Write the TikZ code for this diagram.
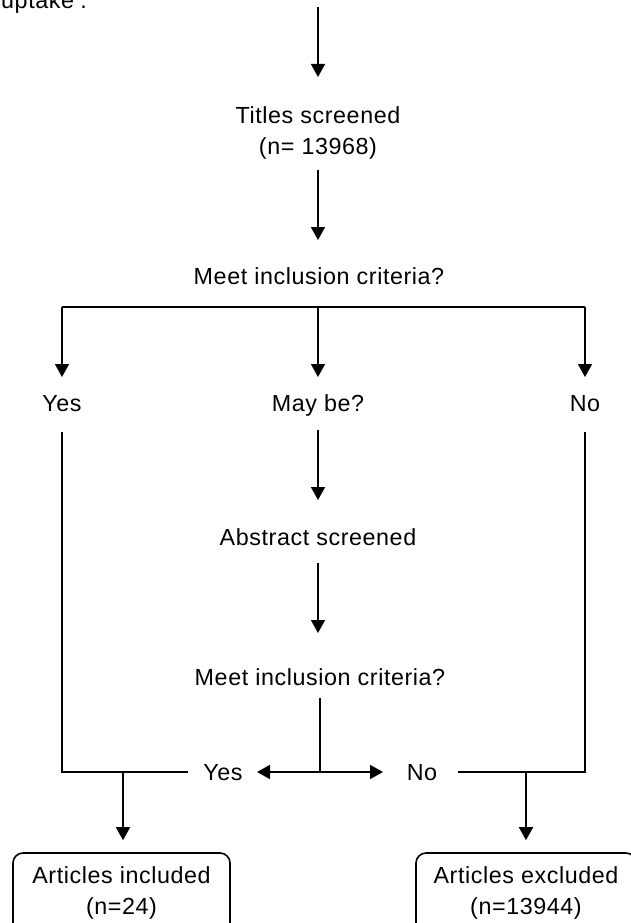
\documentclass[tikz,border=0pt]{standalone}
\usepackage{fontspec}
\setmainfont{Liberation Sans}[LetterSpace=2.5]
\usetikzlibrary{arrows.meta}
\begin{document}
\begin{tikzpicture}[x=1pt,y=-1pt,
  txt/.style={inner sep=0pt, font=\fontsize{23.3}{31}\selectfont},
  lbl/.style={txt, text height=16.7pt, text depth=0pt},
  lbl2/.style={txt, align=center},
  ln/.style={line width=1.6pt},
  arr/.style={ln, -{Triangle[width=14pt,length=13pt]}},
  outbox/.style={txt, draw, line width=1.6pt, rounded corners=10pt, minimum height=80pt, align=center}
]
\useasboundingbox (0,0) rectangle (630,923);

% texts
\node[txt, anchor=base west] (upt) at (1,9) {uptake’.};
\node[lbl2] (titles) at (318,133) {Titles screened\\(n= 13968)};
\node[lbl] (meet1) at (319,276) {Meet inclusion criteria?};
\node[lbl] (yes1) at (62,403) {Yes};
\node[lbl] (maybe) at (318,403) {May be?};
\node[lbl] (no1) at (585,403) {No};
\node[lbl] (abstract) at (318,537) {Abstract screened};
\node[lbl] (meet2) at (320,677) {Meet inclusion criteria?};
\node[lbl] (yes2) at (223,772) {Yes};
\node[lbl] (no2) at (422,772) {No};
\node[outbox, minimum width=217pt] (incl) at (121.5,893) {Articles included\\(n=24)};
\node[outbox, minimum width=220pt] (excl) at (526,893) {Articles excluded\\(n=13944)};

% junctions
\coordinate (top) at (318,7);
\coordinate (hl) at (62,307);
\coordinate (hm) at (318,307);
\coordinate (hr) at (585,307);
\coordinate (mj) at (320,772);
\coordinate (jl) at (123,772);
\coordinate (jr) at (526,772);

% connectors
\draw[arr, shorten >=56pt] (top) -- (titles.center);
\draw[arr, shorten <=37pt, shorten >=36pt] (titles.center) -- (titles.center |- meet1.center);
\draw[ln] (hl) -- (hr);
\draw[arr, shorten >=26pt] (hl) -- (yes1.center);
\draw[arr, shorten >=26pt] (hm) -- (maybe.center);
\draw[arr, shorten >=26pt] (hr) -- (no1.center);
\draw[ln, shorten <=29pt, shorten >=35pt] (yes1.center) -- (yes1.center |- yes2.center) -- (yes2.center);
\draw[ln, shorten <=29pt, shorten >=36pt] (no1.center) -- (no1.center |- no2.center) -- (no2.center);
\draw[arr, shorten <=27pt, shorten >=37pt] (maybe.center) -- (abstract.center);
\draw[arr, shorten <=26pt, shorten >=44pt] (abstract.center) -- (abstract.center |- meet2.center);
\draw[ln, shorten <=21pt] (meet2.center) -- (mj);
\draw[arr, shorten >=34pt] (mj) -- (yes2.center);
\draw[arr, shorten >=39pt] (mj) -- (no2.center);
\draw[arr, shorten >=12pt] (jl) -- (jl |- incl.north);
\draw[arr, shorten >=12pt] (jr) -- (jr |- excl.north);
\end{tikzpicture}
\end{document}
